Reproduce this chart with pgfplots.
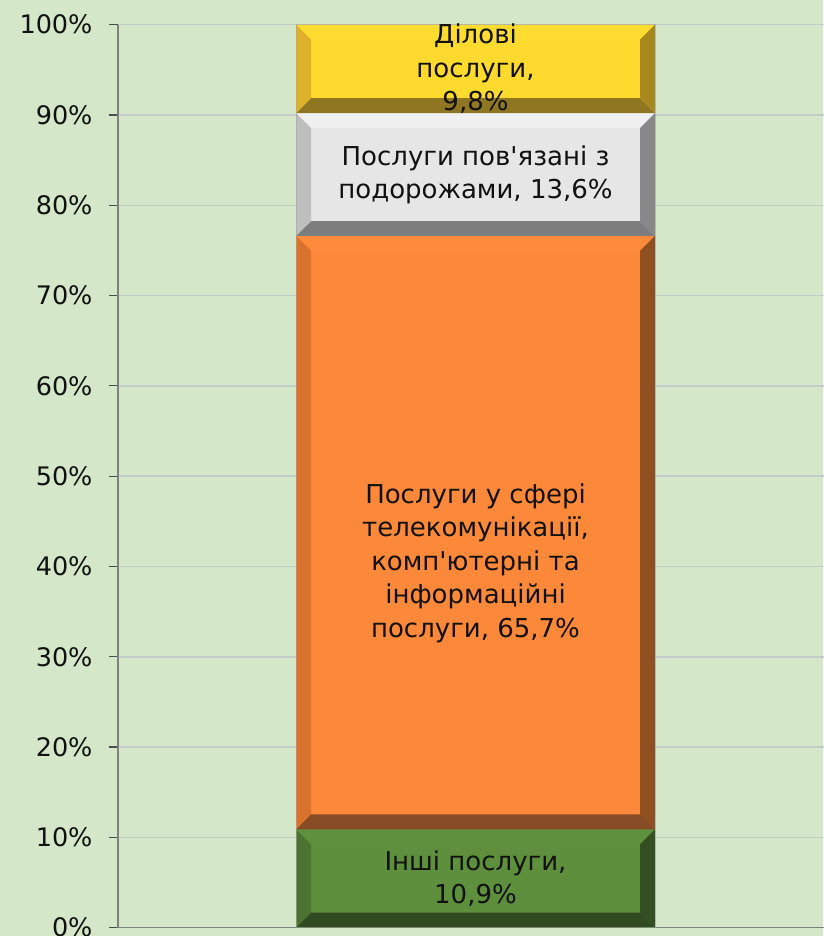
\documentclass[border=0pt]{standalone}
\usepackage{pgfplots}
\pgfplotsset{compat=1.18}
\usetikzlibrary{backgrounds}
\usepackage{fontspec}
\setmainfont{DejaVu Sans}

\definecolor{bgcol}{HTML}{D4E8C9}
\definecolor{gridcol}{HTML}{C3CBCB}
\definecolor{axiscol}{HTML}{808080}
% green
\definecolor{gF}{HTML}{5E8F3C}\definecolor{gT}{HTML}{5F903D}
\definecolor{gL}{HTML}{4D7332}\definecolor{gR}{HTML}{344F22}\definecolor{gB}{HTML}{304B21}
% orange
\definecolor{oF}{HTML}{FC893A}\definecolor{oT}{HTML}{FD8B3B}
\definecolor{oL}{HTML}{D9722C}\definecolor{oR}{HTML}{8F4F21}\definecolor{oB}{HTML}{874B25}
% gray
\definecolor{sF}{HTML}{E6E6E6}\definecolor{sT}{HTML}{F0F0F0}
\definecolor{sL}{HTML}{BEBEBE}\definecolor{sR}{HTML}{888888}\definecolor{sB}{HTML}{7D7D7D}
% yellow
\definecolor{yF}{HTML}{FFDA2E}\definecolor{yT}{HTML}{FFDC30}
\definecolor{yL}{HTML}{DEB12A}\definecolor{yR}{HTML}{A6881C}\definecolor{yB}{HTML}{8F7622}
\definecolor{txt}{HTML}{111111}

\newcommand{\lbl}{\fontsize{26}{33.5}\selectfont}
\newcommand{\tck}{\fontsize{25.5}{30}\selectfont}

\begin{document}
\begin{tikzpicture}
\begin{axis}[
    scale only axis, width=715pt, height=903pt,
    xmin=0, xmax=715, ymin=0, ymax=100,
    axis x line=bottom, axis y line=left,
    axis line style={draw=axiscol, line width=1.5pt, -},
    xtick=\empty,
    ytick={0,10,...,100},
    yticklabel={\pgfmathprintnumber{\tick}\%},
    yticklabel style={font=\tck, text=txt, xshift=-13pt, /pgf/number format/assume math mode=true},
    ymajorgrids, grid style={gridcol, line width=1.5pt},
    tick align=outside, major tick length=9pt,
    tick style={draw=black!70, line width=1.2pt},
    clip=false,
]

% Інші послуги: 0 -- 10.9
\addplot[fill=gF, draw=none] coordinates {(178,0) (537,0) (537,10.9) (178,10.9)} -- cycle;
\addplot[fill=gT, draw=none] coordinates {(178,10.9) (537,10.9) (522,9.24) (193,9.24)} -- cycle;
\addplot[fill=gB, draw=none] coordinates {(178,0) (537,0) (522,1.66) (193,1.66)} -- cycle;
\addplot[fill=gL, draw=none] coordinates {(178,0) (193,1.66) (193,9.24) (178,10.9)} -- cycle;
\addplot[fill=gR, draw=none] coordinates {(537,0) (522,1.66) (522,9.24) (537,10.9)} -- cycle;

% Телекомунікації: 10.9 -- 76.6
\addplot[fill=oF, draw=none] coordinates {(178,10.9) (537,10.9) (537,76.6) (178,76.6)} -- cycle;
\addplot[fill=oT, draw=none] coordinates {(178,76.6) (537,76.6) (522,74.94) (193,74.94)} -- cycle;
\addplot[fill=oB, draw=none] coordinates {(178,10.9) (537,10.9) (522,12.56) (193,12.56)} -- cycle;
\addplot[fill=oL, draw=none] coordinates {(178,10.9) (193,12.56) (193,74.94) (178,76.6)} -- cycle;
\addplot[fill=oR, draw=none] coordinates {(537,10.9) (522,12.56) (522,74.94) (537,76.6)} -- cycle;

% Подорожі: 76.6 -- 90.2
\addplot[fill=sF, draw=none] coordinates {(178,76.6) (537,76.6) (537,90.2) (178,90.2)} -- cycle;
\addplot[fill=sT, draw=none] coordinates {(178,90.2) (537,90.2) (522,88.54) (193,88.54)} -- cycle;
\addplot[fill=sB, draw=none] coordinates {(178,76.6) (537,76.6) (522,78.26) (193,78.26)} -- cycle;
\addplot[fill=sL, draw=none] coordinates {(178,76.6) (193,78.26) (193,88.54) (178,90.2)} -- cycle;
\addplot[fill=sR, draw=none] coordinates {(537,76.6) (522,78.26) (522,88.54) (537,90.2)} -- cycle;

% Ділові: 90.2 -- 100
\addplot[fill=yF, draw=none] coordinates {(178,90.2) (537,90.2) (537,100) (178,100)} -- cycle;
\addplot[fill=yT, draw=none] coordinates {(178,100) (537,100) (522,98.34) (193,98.34)} -- cycle;
\addplot[fill=yB, draw=none] coordinates {(178,90.2) (537,90.2) (522,91.86) (193,91.86)} -- cycle;
\addplot[fill=yL, draw=none] coordinates {(178,90.2) (193,91.86) (193,98.34) (178,100)} -- cycle;
\addplot[fill=yR, draw=none] coordinates {(537,90.2) (522,91.86) (522,98.34) (537,100)} -- cycle;

% thin outlines round the bars
\addplot[draw=black!35, line width=0.8pt, opacity=0.6] coordinates {(178,0) (537,0) (537,100) (178,100)} -- cycle;

\node[align=center, font=\lbl, text=txt] at (axis cs:357.5,95.1) {Ділові\\послуги,\\9,8\%};
\node[align=center, font=\lbl, text=txt] at (axis cs:357.5,83.4) {Послуги пов\textquotesingle язані з\\подорожами, 13,6\%};
\node[align=center, font=\lbl, text=txt] at (axis cs:357.5,40.4) {Послуги у сфері\\телекомунікації,\\комп\textquotesingle ютерні та\\інформаційні\\послуги, 65,7\%};
\node[align=center, font=\lbl, text=txt] at (axis cs:357.5,5.45) {Інші послуги,\\10,9\%};
\coordinate (O) at (axis cs:0,0);
\end{axis}
\begin{scope}[on background layer]
\fill[bgcol] ([shift={(-118pt,-8.3pt)}]O) rectangle +(823pt,936pt);
\end{scope}
\pgfresetboundingbox
\useasboundingbox ([shift={(-118pt,-8.3pt)}]O) rectangle +(823pt,936pt);
\end{tikzpicture}
\end{document}
